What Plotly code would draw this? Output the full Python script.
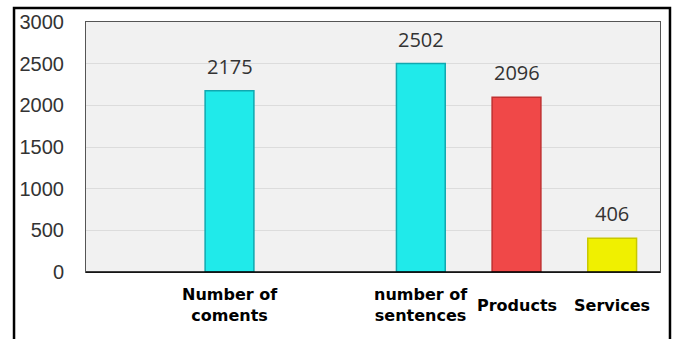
import plotly.graph_objects as go

categories = [" ", "Number of<br>coments", "  ", "number of<br>sentences", "Products", "Services"]
values = [None, 2175, None, 2502, 2096, 406]
bar_colors = ["#20eaea", "#20eaea", "#20eaea", "#20eaea", "#f04848", "#f0f000"]
line_colors = ["#10a8b0", "#10a8b0", "#10a8b0", "#10a8b0", "#c03030", "#c8c800"]
y_ticks = [0, 500, 1000, 1500, 2000, 2500, 3000]

fig = go.Figure(go.Bar(
    x=categories,
    y=values,
    marker=dict(color=bar_colors, line=dict(color=line_colors, width=1.5)),
    cliponaxis=False,
))

for cat, val in zip(categories, values):
    if val is None:
        continue
    # value label above bar
    fig.add_annotation(
        x=cat, y=val, text=str(val), showarrow=False,
        yanchor="bottom", yshift=9,
        font=dict(family="Open Sans, Liberation Sans, Arial", size=20, color="#333333"),
    )
    # category label below axis, vertically centred
    fig.add_annotation(
        x=cat, y=0, yref="paper", text=cat, showarrow=False,
        yanchor="middle", yshift=-33,
        font=dict(family="DejaVu Sans, Verdana", size=16, color="black", weight="bold"),
    )

fig.update_layout(
    width=681, height=339,
    margin=dict(l=86, r=21, t=22, b=67),
    paper_bgcolor="white",
    plot_bgcolor="#f1f1f1",
    bargap=0.49,
    showlegend=False,
    xaxis=dict(
        type="category",
        categoryorder="array",
        categoryarray=categories,
        range=[-0.5, 5.5],
        showgrid=False,
        showline=True, linecolor="#555555", linewidth=1, mirror=True,
        ticks="",
        showticklabels=False,
    ),
    yaxis=dict(
        range=[0, 3000],
        tickvals=y_ticks,
        showgrid=True, gridcolor="#dcdcdc", gridwidth=1,
        zeroline=False,
        showline=True, linecolor="#555555", linewidth=1, mirror=True,
        ticks="",
        ticklabelstandoff=17,
        tickfont=dict(family="Liberation Sans, Arial", size=20, color="#333333"),
    ),
    font=dict(family="Liberation Sans, Arial"),
)

# bottom axis line darker
fig.add_shape(type="line", xref="paper", yref="paper", x0=0, x1=1, y0=0, y1=0,
              line=dict(color="black", width=1.5))
# outer frame
fig.add_shape(type="rect", xref="paper", yref="paper",
              x0=-0.1254, x1=1.0174, y0=-0.4, y1=1.056,
              line=dict(color="black", width=2.5), fillcolor="rgba(0,0,0,0)", layer="above")

fig.write_html("out.html")
